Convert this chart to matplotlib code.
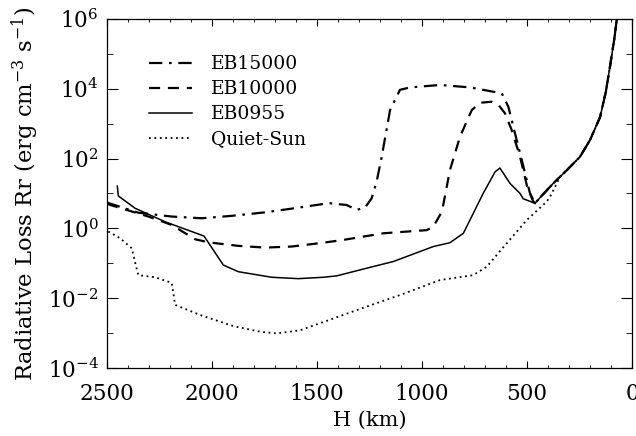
import numpy as np
import matplotlib
matplotlib.use("Agg")
import matplotlib.pyplot as plt
import matplotlib.ticker as ticker

plt.rcParams['font.family'] = 'DejaVu Serif'
plt.rcParams['mathtext.fontset'] = 'dejavuserif'

# --- data: height (km) and log10 of radiative loss ---
# shared steep tail near the bottom of the atmosphere
tail_h = [420, 375, 310, 248, 200, 152, 125, 105, 85, 70]
tail_log = [1.00, 1.29, 1.67, 2.05, 2.53, 3.19, 3.90, 4.63, 5.40, 6.10]

eb15000_h = [2500, 2351, 2192, 2049, 1906, 1748, 1605, 1470, 1438, 1359, 1311,
             1271, 1240, 1216, 1192, 1152, 1105, 1057, 914, 771, 620, 589, 557,
             525, 486, 462]
eb15000_log = [0.74, 0.45, 0.34, 0.29, 0.36, 0.46, 0.58, 0.70, 0.72, 0.67, 0.53,
               0.60, 0.86, 1.34, 2.05, 3.39, 3.97, 4.04, 4.11, 4.04, 3.87, 3.49,
               2.72, 1.96, 1.01, 0.72]

eb10000_h = [2500, 2303, 2192, 2081, 2017, 1875, 1748, 1621, 1470, 1375, 1184,
             978, 946, 905, 867, 819, 763, 724, 668, 636, 605, 573, 533, 499,
             470, 462]
eb10000_log = [0.70, 0.34, 0.10, -0.31, -0.40, -0.50, -0.55, -0.52, -0.41, -0.33,
               -0.14, -0.05, 0.05, 0.48, 1.67, 2.63, 3.39, 3.60, 3.63, 3.54, 3.30,
               2.82, 2.05, 1.19, 0.77, 0.72]

eb0955_h = [2451, 2446, 2367, 2224, 2038, 1946, 1875, 1716, 1589, 1470, 1406,
            1263, 1137, 946, 867, 803, 708, 652, 629, 581, 533, 518, 462]
eb0955_log = [1.21, 0.93, 0.58, 0.19, -0.22, -1.05, -1.24, -1.40, -1.44, -1.40,
              -1.36, -1.14, -0.95, -0.52, -0.41, -0.14, 1.01, 1.62, 1.73, 1.29,
              1.00, 0.85, 0.72]

quiet_h = [2494, 2438, 2382, 2367, 2351, 2271, 2192, 2184, 2176, 2057, 1898,
           1771, 1692, 1581, 1422, 1263, 1105, 914, 756, 692, 597, 501, 406,
           390, 343]
quiet_log = [-0.09, -0.28, -0.57, -0.95, -1.34, -1.40, -1.56, -1.86, -2.19, -2.48,
             -2.80, -2.96, -3.01, -2.92, -2.58, -2.24, -1.91, -1.48, -1.34, -1.10,
             -0.43, 0.24, 0.77, 0.91, 1.47]

series = [
    ('EB15000', eb15000_h + tail_h, eb15000_log + tail_log, dict(ls=(0, (6, 3, 1.2, 3)), lw=1.6)),
    ('EB10000', eb10000_h + tail_h, eb10000_log + tail_log, dict(ls=(0, (5, 3.5)), lw=1.6)),
    ('EB0955', eb0955_h + tail_h, eb0955_log + tail_log, dict(ls='-', lw=1.1)),
    ('Quiet-Sun', quiet_h + tail_h[2:], quiet_log + tail_log[2:], dict(ls=(0, (1, 2)), lw=1.3)),
]

fig = plt.figure(figsize=(6.36, 4.36), dpi=100)
ax = fig.add_axes([107 / 636, 1 - 368 / 436, 525 / 636, 349 / 436])

for name, h, lg, style in series:
    ax.plot(h, 10 ** np.array(lg), color='black', label=name, **style)

ax.set_yscale('log')
ax.set_xlim(2500, 0)
ax.set_ylim(1e-4, 1e6)

ax.set_xticks([2500, 2000, 1500, 1000, 500, 0])
ax.xaxis.set_minor_locator(ticker.MultipleLocator(100))
ax.yaxis.set_major_locator(ticker.LogLocator(base=100, numticks=10))
ax.yaxis.set_minor_locator(ticker.FixedLocator([10.0 ** k for k in range(-3, 6, 2)]))
ax.yaxis.set_minor_formatter(ticker.NullFormatter())

ax.tick_params(axis='both', which='both', direction='in', top=True, right=True,
               labelsize=15.5, colors='black')
ax.tick_params(axis='y', which='major', length=8, pad=6)
ax.tick_params(axis='y', which='minor', length=4.5)
ax.tick_params(axis='x', which='major', length=5, pad=11)
ax.tick_params(axis='x', which='minor', length=2.5)
for sp in ax.spines.values():
    sp.set_linewidth(0.9)

ax.set_xlabel('H (km)', fontsize=15, labelpad=4)
ax.set_ylabel(r'Radiative Loss Rr (erg cm$^{-3}$ s$^{-1}$)', fontsize=16.3, labelpad=5)

ax.legend(loc='upper left', bbox_to_anchor=(0.065, 0.918), frameon=False,
          fontsize=13.5, handlelength=2.3, handletextpad=1.05, labelspacing=0.38,
          borderaxespad=0)

fig.savefig('out.png', dpi=100)
